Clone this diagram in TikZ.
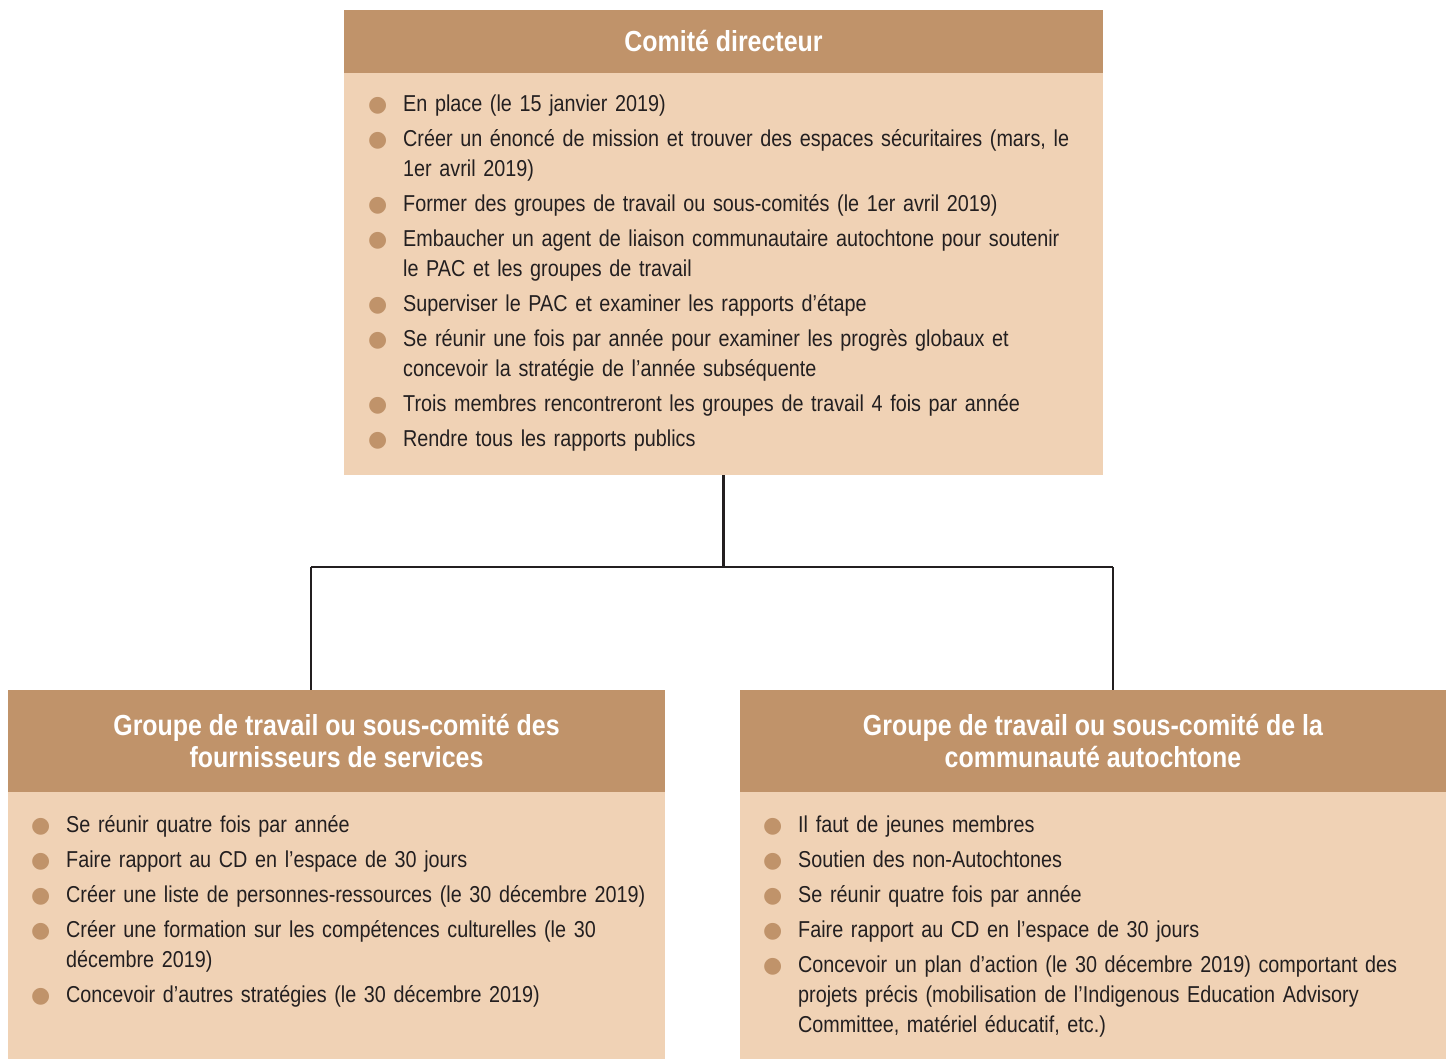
\documentclass[tikz,border=0pt]{standalone}
\usepackage{fontspec}
\setmainfont{Liberation Sans}[FakeStretch=0.86]
\newfontfamily\dotfont{DejaVu Sans}
\usepackage{enumitem}
\usetikzlibrary{positioning}

\definecolor{headtan}{RGB}{192,147,106}
\definecolor{bodytan}{RGB}{240,210,181}
\definecolor{inkgray}{RGB}{35,31,32}

\newcommand{\tandot}{\textcolor{headtan}{\dotfont\fontsize{22}{22}\selectfont ●}}
\newcommand{\tightspace}{\spaceskip=5pt plus 1pt minus 1pt\relax}
\newenvironment{points}{%
  \begin{itemize}[label=\tandot, leftmargin=35pt, labelsep=16pt,
    itemsep=5pt, parsep=0pt, topsep=0pt, partopsep=0pt]}{\end{itemize}}

\begin{document}
\begin{tikzpicture}[
    x=1pt, y=-1pt,
    head/.style={fill=headtan, text=white, inner sep=0pt, outer sep=0pt, align=center,
      font=\bfseries\fontsize{29}{32}\selectfont},
    body/.style={fill=bodytan, inner sep=0pt, outer sep=0pt},
    list/.style={text width=720pt, inner sep=0pt, align=left, text=inkgray,
      font=\fontsize{23}{30}\selectfont\tightspace},
    conn/.style={line width=2.5pt, inkgray}
]
\useasboundingbox (0,0) rectangle (1448,1059);

% steering committee
\node[head, anchor=north west, minimum width=759pt, minimum height=63pt] (cdhead) at (344,10) {Comité directeur};
\node[body, below=0pt of cdhead, minimum width=759pt, minimum height=402pt] (cdbody) {};
\node[list, below right=8pt and 24pt of cdbody.north west] (cdlist) {
  \begin{points}
    \item En place (le 15 janvier 2019)
    \item Créer un énoncé de mission et trouver des espaces sécuritaires (mars, le\newline 1er avril 2019)
    \item Former des groupes de travail ou sous-comités (le 1er avril 2019)
    \item Embaucher un agent de liaison communautaire autochtone pour soutenir\newline le PAC et les groupes de travail
    \item Superviser le PAC et examiner les rapports d’étape
    \item Se réunir une fois par année pour examiner les progrès globaux et\newline concevoir la stratégie de l’année subséquente
    \item Trois membres rencontreront les groupes de travail 4 fois par année
    \item Rendre tous les rapports publics
  \end{points}
};

% service providers
\node[head, anchor=north west, minimum width=657pt, minimum height=102pt] (fshead) at (8,690) {Groupe de travail ou sous-comité des\\fournisseurs de services};
\node[body, below=0pt of fshead, minimum width=657pt, minimum height=267pt] (fsbody) {};
\node[list, below right=10pt and 23pt of fsbody.north west] (fslist) {
  \begin{points}
    \item Se réunir quatre fois par année
    \item Faire rapport au CD en l’espace de 30 jours
    \item Créer une liste de personnes-ressources (le 30 décembre 2019)
    \item Créer une formation sur les compétences culturelles (le 30\newline décembre 2019)
    \item Concevoir d’autres stratégies (le 30 décembre 2019)
  \end{points}
};

% indigenous community
\node[head, anchor=north west, minimum width=706pt, minimum height=102pt] (achead) at (740,690) {Groupe de travail ou sous-comité de la\\communauté autochtone};
\node[body, below=0pt of achead, minimum width=706pt, minimum height=267pt] (acbody) {};
\node[list, below right=10pt and 23pt of acbody.north west] (aclist) {
  \begin{points}
    \item Il faut de jeunes membres
    \item Soutien des non-Autochtones
    \item Se réunir quatre fois par année
    \item Faire rapport au CD en l’espace de 30 jours
    \item Concevoir un plan d’action (le 30 décembre 2019) comportant des\newline projets précis (mobilisation de l’Indigenous Education Advisory\newline Committee, matériel éducatif, etc.)
  \end{points}
};

\coordinate (jl) at (311,567);
\coordinate (jr) at (1113,567);
\draw[conn] (cdbody.south) -- (cdbody.south |- jl);
\draw[conn] (jl) -- (jr);
\draw[conn] (jl) -- (jl |- fshead.north);
\draw[conn] (jr) -- (jr |- achead.north);
\end{tikzpicture}
\end{document}
